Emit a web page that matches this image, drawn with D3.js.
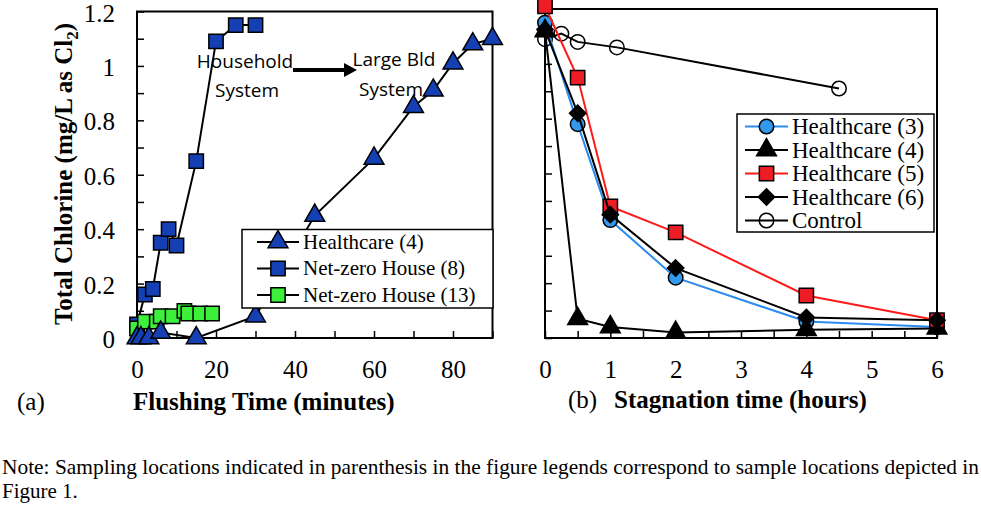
<!DOCTYPE html>
<html>
<head>
<meta charset="utf-8">
<script src="https://cdn.jsdelivr.net/npm/d3@7"></script>
<style>
  body { margin: 0; background: #fff; }
  svg { display: block; }
  text { fill: #000; }
</style>
</head>
<body>
<div id="chart"></div>
<script>
// panel (a) flushing data
var flushHc4 = [0, 1, 3, 6, 15, 30, 45, 60, 70, 75, 80, 85, 90];
var hc4Flush = [0, 0, 0, 0.02, 0, 0.08, 0.45, 0.66, 0.85, 0.91, 1.01, 1.08, 1.10];
var flushNz8 = [0, 2, 4, 6, 8, 10, 15, 20, 25, 30];
var nz8Flush = [0.05, 0.16, 0.18, 0.35, 0.40, 0.34, 0.65, 1.09, 1.15, 1.15];
var flushNz13 = [0, 2, 5, 6, 9, 12, 13, 16, 19];
var nz13Flush = [0.035, 0.06, 0.06, 0.08, 0.08, 0.10, 0.09, 0.09, 0.09];

// panel (b) stagnation data
var stagHours = [0, 0.5, 1, 2, 4, 6];
var hc3Stag = [1.15, 0.78, 0.43, 0.22, 0.06, 0.04];
var hc4Stag = [1.12, 0.07, 0.04, 0.02, 0.03, 0.035];
var hc5Stag = [1.21, 0.95, 0.48, 0.385, 0.155, 0.065];
var hc6Stag = [1.125, 0.82, 0.45, 0.255, 0.075, 0.065];
var controlHours = [0, 0.25, 0.5, 1.1, 4.5];
var controlStag = [1.09, 1.11, 1.08, 1.06, 0.91];

// ticks
var yTicks = [0, 0.1, 0.2, 0.3, 0.4, 0.5, 0.6, 0.7, 0.8, 0.9, 1.0, 1.1, 1.2];
var yLabels = [0, 0.2, 0.4, 0.6, 0.8, 1, 1.2];
var flushTicks = [0, 10, 20, 30, 40, 50, 60, 70, 80, 90];
var flushLabels = [0, 20, 40, 60, 80];
var stagTicks = [0, 0.5, 1, 1.5, 2, 2.5, 3, 3.5, 4, 4.5, 5, 5.5, 6];
var stagLabels = [0, 1, 2, 3, 4, 5, 6];

var serif = "'Liberation Serif', 'Times New Roman', serif";
var sans = "'Open Sans', Lato, sans-serif";

var svgWidth = 981;
var svgHeight = 507;

var svg = d3.select("#chart")
  .append("svg")
  .attr("width", svgWidth)
  .attr("height", svgHeight)
  .style("font-family", serif);

svg.append("rect")
  .attr("width", svgWidth)
  .attr("height", svgHeight)
  .attr("fill", "#fff");

// scales
var xLeft = d3.scaleLinear().domain([0, 90]).range([137, 492.5]);
var yLeft = d3.scaleLinear().domain([0, 1.2]).range([338, 11.5]);
var xRight = d3.scaleLinear().domain([0, 6]).range([545, 937]);
var yRight = d3.scaleLinear().domain([0, 1.2]).range([338, 9]);

function zip(xs, ys) {
  return xs.map(function (x, i) { return { x: x, y: ys[i] }; });
}

function drawAxes(xScale, yScale, xTicks, xLabels, showY) {
  var fmtY = function (d) {
    if (!showY) return "";
    return yLabels.some(function (v) { return Math.abs(v - d) < 1e-6; }) ? d3.format("~g")(d) : "";
  };
  var fmtX = function (d) {
    return xLabels.indexOf(d) >= 0 ? d : "";
  };

  var gy = svg.append("g")
    .attr("transform", `translate(${xScale.range()[0]},0)`)
    .call(d3.axisLeft(yScale).tickValues(yTicks).tickSize(-7).tickSizeOuter(0).tickPadding(22).tickFormat(fmtY));

  var gx = svg.append("g")
    .attr("transform", `translate(0,${yScale.range()[0]})`)
    .call(d3.axisBottom(xScale).tickValues(xTicks).tickSize(-7).tickSizeOuter(0).tickPadding(22).tickFormat(fmtX));

  [gx, gy].forEach(function (g) {
    g.select(".domain").remove();
    g.selectAll("line").attr("stroke", "#000").attr("stroke-width", 1.5);
    g.selectAll("text")
      .style("font-family", serif)
      .style("font-size", "25px")
      .attr("fill", "#000");
  });
  gy.selectAll("text").attr("dy", "0.38em");

  // plot frame
  svg.append("rect")
    .attr("x", xScale.range()[0])
    .attr("y", yScale.range()[1])
    .attr("width", xScale.range()[1] - xScale.range()[0])
    .attr("height", yScale.range()[0] - yScale.range()[1])
    .attr("fill", "none")
    .attr("stroke", "#000")
    .attr("stroke-width", 2);
}

drawAxes(xLeft, yLeft, flushTicks, flushLabels, true);
drawAxes(xRight, yRight, stagTicks, stagLabels, false);

var shapes = {
  triangle: d3.symbol().type(d3.symbolTriangle).size(170),
  square: d3.symbol().type(d3.symbolSquare).size(205),
  diamond: d3.symbol().type(d3.symbolDiamond2 || d3.symbolDiamond).size(170),
  circle: d3.symbol().type(d3.symbolCircle).size(165)
};

function drawSeries(data, xScale, yScale, opts) {
  var line = d3.line()
    .x(d => xScale(d.x))
    .y(d => yScale(d.y));

  svg.append("path")
    .datum(data)
    .attr("d", line)
    .attr("fill", "none")
    .attr("stroke", opts.lineColor)
    .attr("stroke-width", 2);

  svg.append("g")
    .selectAll("path")
    .data(data)
    .enter()
    .append("path")
    .attr("d", shapes[opts.shape])
    .attr("transform", d => `translate(${xScale(d.x)},${yScale(d.y)})`)
    .attr("fill", opts.fill)
    .attr("stroke", "#000")
    .attr("stroke-width", 1.5);
}

// legend entry: short line with marker in the middle, then label
function legendRow(x0, x1, y, opts, label, fontSize) {
  svg.append("line")
    .attr("x1", x0).attr("x2", x1)
    .attr("y1", y).attr("y2", y)
    .attr("stroke", opts.lineColor)
    .attr("stroke-width", 2);
  svg.append("path")
    .attr("d", shapes[opts.shape])
    .attr("transform", `translate(${(x0 + x1) / 2},${y})`)
    .attr("fill", opts.fill)
    .attr("stroke", "#000")
    .attr("stroke-width", 1.5);
  svg.append("text")
    .attr("x", x1 + 4)
    .attr("y", y)
    .attr("dy", "0.33em")
    .style("font-size", fontSize + "px")
    .text(label);
}

// panel (a) series
var styleHc4a = { shape: "triangle", fill: "#1440b4", lineColor: "#000" };
var styleNz8 = { shape: "square", fill: "#1440b4", lineColor: "#000" };
var styleNz13 = { shape: "square", fill: "#3cf03c", lineColor: "#000" };

drawSeries(zip(flushNz8, nz8Flush), xLeft, yLeft, styleNz8);
drawSeries(zip(flushNz13, nz13Flush), xLeft, yLeft, styleNz13);
drawSeries(zip(flushHc4, hc4Flush), xLeft, yLeft, styleHc4a);

// annotation text + arrow
[["Household", 245, 68], ["System", 247, 97], ["Large Bld", 394, 66], ["System", 391, 96]].forEach(function (t) {
  svg.append("text")
    .attr("x", t[1])
    .attr("y", t[2])
    .attr("text-anchor", "middle")
    .style("font-family", sans)
    .style("font-size", "19px")
    .text(t[0]);
});

svg.append("line")
  .attr("x1", 293).attr("x2", 346)
  .attr("y1", 70).attr("y2", 70)
  .attr("stroke", "#000")
  .attr("stroke-width", 4);
svg.append("path")
  .attr("d", "M344,63 L357,70 L344,77 Z")
  .attr("fill", "#000");

// panel (a) legend
svg.append("rect")
  .attr("x", 242).attr("y", 229.5)
  .attr("width", 251).attr("height", 78.5)
  .attr("fill", "#fff")
  .attr("stroke", "#000")
  .attr("stroke-width", 1.5);
legendRow(257, 299, 242, styleHc4a, "Healthcare (4)", 21);
legendRow(257, 299, 268.5, styleNz8, "Net-zero House (8)", 21);
legendRow(257, 299, 295, styleNz13, "Net-zero House (13)", 21);

// panel (b) series
var styleControl = { shape: "circle", fill: "none", lineColor: "#000" };
var styleHc3 = { shape: "circle", fill: "#3399ee", lineColor: "#2a8cf0" };
var styleHc4b = { shape: "triangle", fill: "#000", lineColor: "#000" };
var styleHc5 = { shape: "square", fill: "#ee1c24", lineColor: "#ff1a1a" };
var styleHc6 = { shape: "diamond", fill: "#000", lineColor: "#000" };

drawSeries(zip(controlHours, controlStag), xRight, yRight, styleControl);
drawSeries(zip(stagHours, hc3Stag), xRight, yRight, styleHc3);
drawSeries(zip(stagHours, hc4Stag), xRight, yRight, styleHc4b);
drawSeries(zip(stagHours, hc5Stag), xRight, yRight, styleHc5);
drawSeries(zip(stagHours, hc6Stag), xRight, yRight, styleHc6);

// panel (b) legend
svg.append("rect")
  .attr("x", 737).attr("y", 114)
  .attr("width", 197).attr("height", 118)
  .attr("fill", "#fff")
  .attr("stroke", "#000")
  .attr("stroke-width", 1.5);
legendRow(745, 788, 126.5, styleHc3, "Healthcare (3)", 23);
legendRow(745, 788, 150, styleHc4b, "Healthcare (4)", 23);
legendRow(745, 788, 173.5, styleHc5, "Healthcare (5)", 23);
legendRow(745, 788, 197, styleHc6, "Healthcare (6)", 23);
legendRow(745, 788, 220.5, styleControl, "Control", 23);

// axis titles
svg.append("text")
  .attr("transform", "translate(72,174) rotate(-90)")
  .attr("text-anchor", "middle")
  .style("font-size", "25px")
  .style("font-weight", "bold")
  .html('Total Chlorine (mg/L as Cl<tspan style="font-size:17px" dy="6">2</tspan><tspan dy="-6">)</tspan>');

svg.append("text")
  .attr("x", 17).attr("y", 410)
  .style("font-size", "25px")
  .text("(a)");
svg.append("text")
  .attr("x", 133).attr("y", 410)
  .style("font-size", "25px")
  .style("font-weight", "bold")
  .text("Flushing Time (minutes)");

svg.append("text")
  .attr("x", 568).attr("y", 408)
  .style("font-size", "25px")
  .text("(b)");
svg.append("text")
  .attr("x", 614).attr("y", 408)
  .style("font-size", "25px")
  .style("font-weight", "bold")
  .text("Stagnation time (hours)");

// footnote
svg.append("text")
  .attr("x", 2).attr("y", 474)
  .style("font-size", "21px")
  .attr("textLength", 977)
  .attr("lengthAdjust", "spacingAndGlyphs")
  .text("Note: Sampling locations indicated in parenthesis in the figure legends correspond to sample locations depicted in");
svg.append("text")
  .attr("x", 2).attr("y", 498)
  .style("font-size", "21px")
  .text("Figure 1.");
</script>
</body>
</html>
